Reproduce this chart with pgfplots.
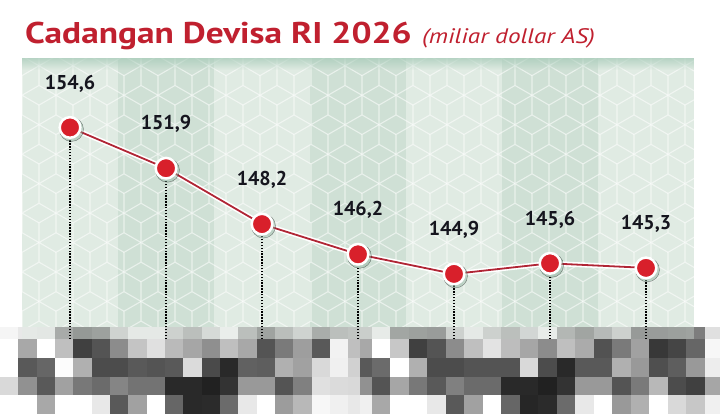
\documentclass[border=0pt]{standalone}
\usepackage{pgfplots}
\usepackage{pgfplotstable}
\pgfplotsset{compat=1.18}
\usepackage{fontspec}
\setmainfont{PT Sans}
\definecolor{titlered}{HTML}{C0202F}
\definecolor{bglight}{HTML}{E0EBE3}
\definecolor{bgdark}{HTML}{CFE0D5}
\definecolor{topshade}{HTML}{A9CCBA}
\definecolor{ptred}{HTML}{D8202B}
\definecolor{linered}{HTML}{B02535}
\definecolor{labelcol}{HTML}{15151E}
\definecolor{shadowcol}{HTML}{8FB3A0}

\newcommand\mosaicrow[3]{%
  \foreach \w [count=\i from 0] in {#3} {%
    \pgfmathsetmacro\xa{\i<19 ? 18.33*\i : (\i==19 ? 348.3 : (\i==20 ? 360 : (\i<39 ? 371.7+18.5*(\i-21) : 704.7)))}%
    \pgfmathsetmacro\xb{\i<19 ? 18.33*(\i+1) : (\i==19 ? 360 : (\i==20 ? 371.7 : (\i<39 ? 371.7+18.5*(\i-20) : 720)))}%
    \fill[white!\w!black] (\xa,#1) rectangle ({\xb+0.3},#2);
  }%
}

\pgfplotstableread{
x y
0 154.6
1 151.9
2 148.2
3 146.2
4 144.9
5 145.6
6 145.3
}\datatable

\begin{document}
\begin{tikzpicture}[x=1pt,y=1pt]
\path[use as bounding box] (0,0) rectangle (720,414);
\fill[white] (0,0) rectangle (720,414);
% background bands
\foreach \k in {0,...,6} {
  \pgfmathsetmacro\xa{22+96*\k}
  \ifodd\k \def\bc{bgdark}\else\def\bc{bglight}\fi
  \fill[\bc] (\xa,75) rectangle ({\xa+96},356);
}
% cube pattern
\begin{scope}
\clip (22,75) rectangle (694,356);
\foreach \r in {0,...,10} {
  \foreach \c in {0,...,21} {
    \pgfmathsetmacro\cx{22+34*\c+mod(\r,2)*17}
    \pgfmathsetmacro\cy{358-29.45*\r}
    \draw[white, opacity=0.55, line width=1.1pt]
      (\cx,\cy) +(90:19.63) -- +(150:19.63) -- +(210:19.63) -- +(270:19.63)
      (\cx,\cy) -- +(90:19.63)
      (\cx,\cy) -- +(210:19.63)
      (\cx,\cy) -- +(330:19.63);
  }
}
\end{scope}
% top shade
\foreach \j in {0,...,11} {
  \pgfmathsetmacro\op{0.75*(1-\j/12)}
  \fill[topshade, opacity=\op] (22,{356-\j}) rectangle (694,{355-\j});
}
% title
\node[anchor=base west, inner sep=0, text=titlered, font=\fontsize{30}{30}\selectfont\bfseries] at (25,370) {\scalebox{1.18}[1]{Cadangan Devisa RI 2026}};
\node[anchor=base west, inner sep=0, text=titlered, font=\fontsize{21}{21}\selectfont\itshape] at (422,370) {\scalebox{1.2}[1]{(miliar dollar AS)}};
% mosaic first row (blended)
\mosaicrow{87}{75}{96,91,90,54,43,48,78,91,91,77,66,82,94,66,49,65,78,55,66,69,75,92,51,48,45,77,91,77,66,80,93,61,50,63,77,44,45,47,49,88}
\fill[bglight, opacity=0.35] (22,75) rectangle (694,87);

\begin{axis}[at={(22pt,75pt)}, anchor=south west, scale only axis,
  width=672pt, height=281pt,
  xmin=-0.5, xmax=6.5, ymin=140.59, ymax=159.2,
  hide axis, clip=true,
  /pgf/number format/assume math mode=true]
\addplot[ycomb, draw=black, line width=1.5pt, dash pattern=on 1.4pt off 1.5pt, mark=none] table {\datatable};
\addplot[white, line width=5pt, mark=none] table {\datatable};
\addplot[only marks, mark=*, mark size=12pt,
  mark options={fill=shadowcol, draw=none, opacity=0.45, xshift=1.5pt, yshift=-2pt}] table {\datatable};
\addplot[linered, line width=1.8pt, mark=*, mark size=10.3pt,
  mark options={fill=ptred, draw=white, line width=2.5pt, solid},
  point meta=y,
  nodes near coords={\pgfmathprintnumber[fixed,fixed zerofill,precision=1,use comma,assume math mode=true]{\pgfplotspointmeta}},
  every node near coord/.append style={anchor=center, yshift=44pt, font=\fontsize{20}{20}\selectfont\bfseries, text=labelcol}
  ] table {\datatable};
\end{axis}

% mosaic opaque rows
\mosaicrow{75}{56}{100,66,100,75,25,33,55,77,88,73,65,56,75,66,33,48,62,35,95,75,66,100,78,25,33,55,75,89,74,65,55,75,67,32,48,63,22,27,40,97}
\mosaicrow{56}{37}{100,35,40,99,69,30,30,35,33,35,86,29,16,38,37,69,63,85,94,82,35,42,100,69,30,30,33,33,33,85,30,16,35,35,69,60,31,37,60,93}
\mosaicrow{37}{19}{85,57,35,63,47,42,52,45,45,16,16,13,20,60,60,33,50,88,86,85,57,33,65,47,35,50,42,42,16,16,13,20,60,60,33,48,72,30,25,65}
\mosaicrow{19}{0}{100,100,66,100,100,91,35,63,100,40,16,17,42,91,100,61,72,97,94,91,94,66,100,100,91,35,63,100,40,15,17,42,91,100,60,69,100,85,78,94}
\end{tikzpicture}
\end{document}
